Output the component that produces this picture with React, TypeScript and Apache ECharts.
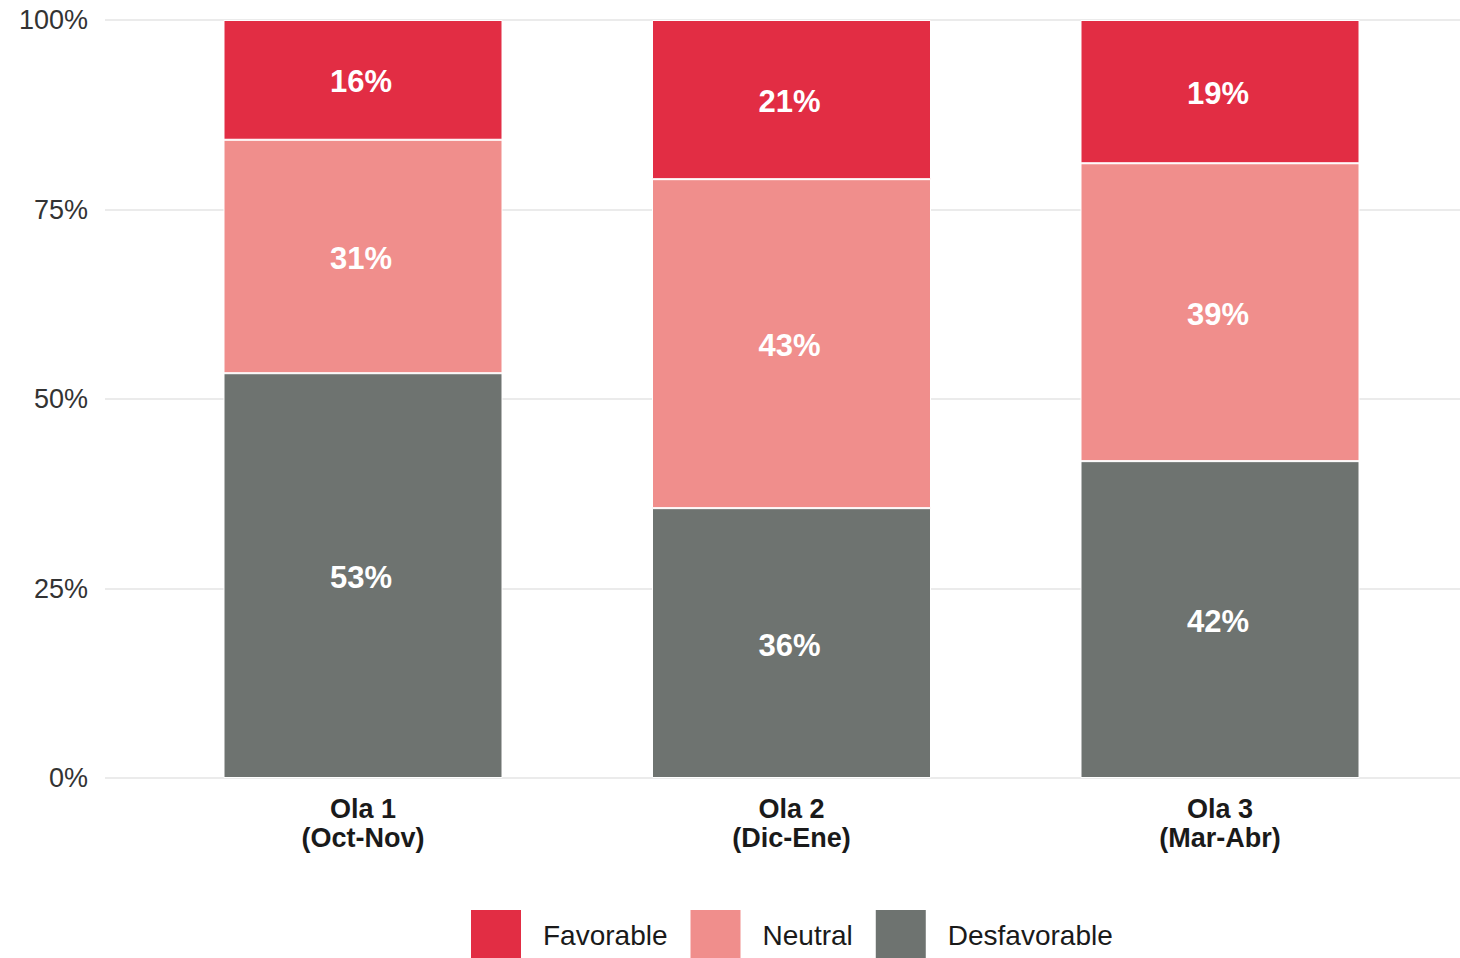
import React, { useEffect, useRef } from "react";
import * as echarts from "echarts";

const categories = ["Ola 1\n(Oct-Nov)", "Ola 2\n(Dic-Ene)", "Ola 3\n(Mar-Abr)"];
const desfavorable = [53.4, 35.6, 41.8];
const neutral = [30.8, 43.4, 39.3];
const favorable = [15.8, 21.0, 18.9];
const yTicks = [0, 25, 50, 75, 100];

const FONT = "'Liberation Sans', Arial, Helvetica, sans-serif";

export default function App() {
  const ref = useRef<HTMLDivElement>(null);
  useEffect(() => {
    if (!ref.current) return;
    const chart = echarts.init(ref.current, null, { renderer: "svg" });
    const barLabel = {
      show: true,
      position: "inside",
      offset: [-2, 2],
      color: "#ffffff",
      fontFamily: FONT,
      fontWeight: "bold",
      fontSize: 31,
      formatter: (p: any) => Math.round(p.value) + "%",
    };
    const mk = (name: string, data: number[], color: string) => ({
      name,
      type: "bar",
      stack: "total",
      xAxisIndex: 1,
      yAxisIndex: 1,
      barWidth: 279,
      data,
      itemStyle: { color, borderColor: "#ffffff", borderWidth: 1 },
      label: barLabel,
    });
    chart.setOption({
      animation: false,
      backgroundColor: "#ffffff",
      textStyle: { fontFamily: FONT },
      grid: [
        { left: 105, right: 0, top: 20, bottom: 180 },
        { left: 148.75, right: 25.75, top: 20, bottom: 180 },
      ],
      xAxis: [
        { type: "value", gridIndex: 0, show: false, min: 0, max: 1 },
        {
          type: "category",
          gridIndex: 1,
          data: categories,
          axisLine: { show: false },
          axisTick: { show: false },
          axisLabel: {
            margin: 16,
            color: "#1a1a1a",
            fontFamily: FONT,
            fontWeight: "bold",
            fontSize: 27,
            lineHeight: 29,
          },
        },
      ],
      yAxis: [
        {
          type: "value",
          gridIndex: 0,
          min: 0,
          max: 100,
          interval: 25,
          axisLine: { show: false },
          axisTick: { show: false },
          splitLine: { show: true, lineStyle: { color: "#ebebeb", width: 2 } },
          axisLabel: {
            margin: 17,
            color: "#333333",
            fontFamily: FONT,
            fontSize: 27,
            formatter: (v: number) => (yTicks.includes(v) ? v + "%" : ""),
          },
        },
        {
          type: "value",
          gridIndex: 1,
          min: 0,
          max: 100,
          show: false,
          splitLine: { show: false },
        },
      ],
      legend: {
        left: 469,
        top: 908,
        padding: 0,
        itemWidth: 52,
        itemHeight: 52,
        itemGap: 21,
        icon: "rect",
        data: ["Favorable", "Neutral", "Desfavorable"],
        textStyle: {
          color: "#1a1a1a",
          fontFamily: FONT,
          fontSize: 28,
          padding: [4, 0, 0, 16],
        },
      },
      series: [
        mk("Desfavorable", desfavorable, "#6E7370"),
        mk("Neutral", neutral, "#F08E8C"),
        mk("Favorable", favorable, "#E22D44"),
      ],
    });
    return () => chart.dispose();
  }, []);
  return (
    <div
      ref={ref}
      style={{ position: "fixed", left: 0, top: 0, width: 1460, height: 958 }}
    />
  );
}
